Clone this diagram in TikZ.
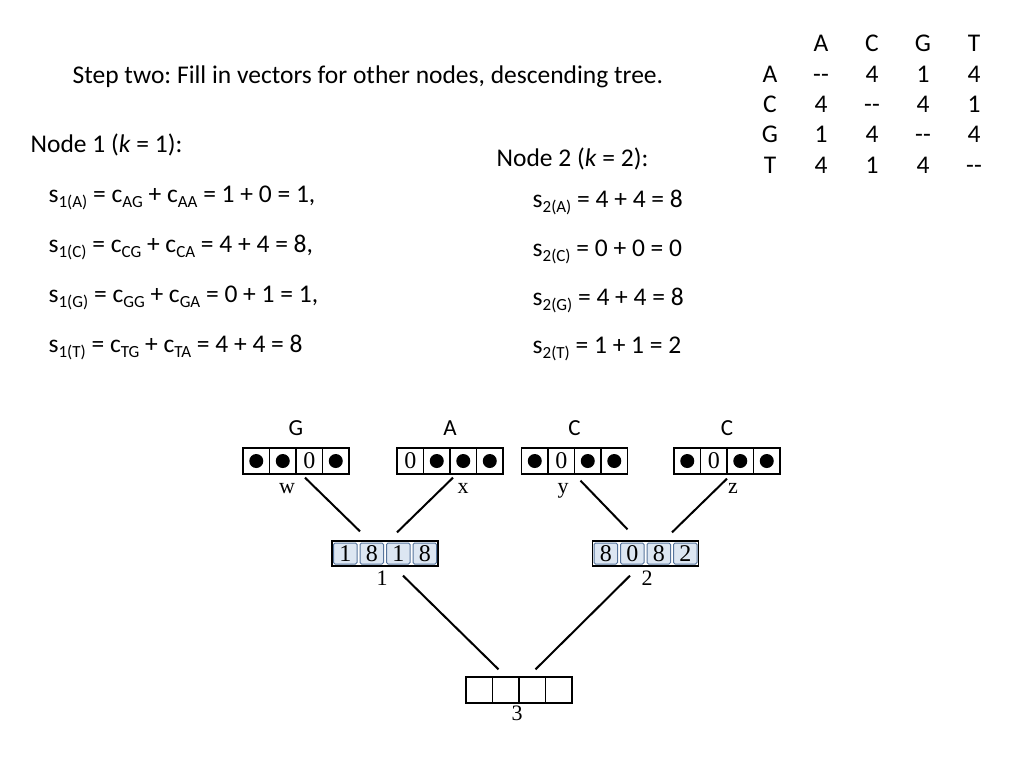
\documentclass[tikz,border=0pt]{standalone}
\usepackage{fontspec}
\setmainfont{Carlito}
\newfontfamily\timesfont{Liberation Serif}
\usetikzlibrary{positioning}
\frenchspacing

\definecolor{cellfill}{RGB}{220,230,242}
\definecolor{cellborder}{RGB}{85,115,155}

\newcommand{\lowtxt}[1]{\raisebox{-5pt}{\fontsize{17}{17}\selectfont #1}}
\newcommand{\blob}{\tikz\fill (0,0) circle (7pt);}

\begin{document}
\begin{tikzpicture}[x=1pt, y=-1pt, line width=1.3pt,
    txt/.style={inner sep=0pt, font=\fontsize{25.5}{30}\selectfont},
    letter/.style={inner sep=0pt, anchor=base, font=\fontsize{23}{25}\selectfont},
    lbl/.style={inner sep=0pt, anchor=base, font=\timesfont\fontsize{22}{24}\selectfont},
    frame/.style={draw, rectangle, minimum width=106pt, minimum height=26pt, inner sep=0pt},
    cell/.style={draw, rectangle, minimum width=26.5pt, minimum height=26pt, inner sep=0pt,
        font=\timesfont\fontsize{24}{26}\selectfont},
    bluecell/.style={draw=cellborder, fill=cellfill, rounded corners=1.5pt, line width=1pt,
        minimum width=23.5pt, minimum height=21pt, inner sep=0pt,
        font=\timesfont\fontsize{24}{26}\selectfont},
    edge/.style={line width=2pt}]
\useasboundingbox (0,0) rectangle (1024,768);

% heading and cost table
\node[txt, anchor=base west] (title) at (72,83) {Step two: Fill in vectors for other nodes, descending tree.};
\foreach \h [count=\c] in {A,C,G,T} {
    \node[txt, anchor=base] (col\c) at ({770+\c*51},52) {\h};
    \node[txt, anchor=base] (row\c) at (770,{52+\c*30.3}) {\h};
}
\foreach \vals [count=\r] in {{-{}-,4,1,4},{4,-{}-,4,1},{1,4,-{}-,4},{4,1,4,-{}-}} {
    \foreach \v [count=\c] in \vals
        \node[txt, anchor=base] (m\r\c) at ({770+\c*51},{52+\r*30.3}) {\v};
}

% node 1 sums
\node[txt, anchor=base west] (node1) at (30,152) {Node 1 (\textit{k} = 1):};
\node[txt, anchor=base west] (s1a) at (48,202) {s\lowtxt{1(A)} = c\lowtxt{AG} + c\lowtxt{AA} = 1 + 0 = 1,};
\node[txt, anchor=base west] (s1c) at (48,252) {s\lowtxt{1(C)} = c\lowtxt{CG} + c\lowtxt{CA} = 4 + 4 = 8,};
\node[txt, anchor=base west] (s1g) at (48,302) {s\lowtxt{1(G)} = c\lowtxt{GG} + c\lowtxt{GA} = 0 + 1 = 1,};
\node[txt, anchor=base west] (s1t) at (48,352) {s\lowtxt{1(T)} = c\lowtxt{TG} + c\lowtxt{TA} = 4 + 4 = 8};

% node 2 sums
\node[txt, anchor=base west] (node2) at (496,166) {Node 2 (\textit{k} = 2):};
\node[txt, anchor=base west] (s2a) at (532,207) {s\lowtxt{2(A)} = 4 + 4 = 8};
\node[txt, anchor=base west] (s2c) at (532,256) {s\lowtxt{2(C)} = 0 + 0 = 0};
\node[txt, anchor=base west] (s2g) at (532,305) {s\lowtxt{2(G)} = 4 + 4 = 8};
\node[txt, anchor=base west] (s2t) at (532,353) {s\lowtxt{2(T)} = 1 + 1 = 2};

% leaf vectors
\foreach \nm/\cx/\ch/\a/\b/\c/\d in {w/296/G/\blob/\blob/0/\blob, x/450/A/0/\blob/\blob/\blob,
        y/574.5/C/\blob/0/\blob/\blob, z/727/C/\blob/0/\blob/\blob} {
    \node[letter] (let\nm) at (\cx,435) {\ch};
    \node[frame] (\nm) at (\cx,461) {};
    \foreach \v [count=\i] in {\a,\b,\c,\d}
        \node[cell] (\nm\i) at ({\cx+(\i-2.5)*26.5},461) {\v};
}
\node[lbl] (lw) at (287,493) {w};
\node[lbl] (lx) at (463,493) {x};
\node[lbl] (ly) at (563,493) {y};
\node[lbl] (lz) at (733,493) {z};

% internal vectors
\foreach \nm/\cx/\a/\b/\c/\d in {n1/385/1/8/1/8, n2/645.5/8/0/8/2} {
    \node[frame, minimum height=25pt] (\nm) at (\cx,553.5) {};
    \foreach \v [count=\i] in {\a,\b,\c,\d}
        \node[bluecell] (\nm\i) at ({\cx+(\i-2.5)*26.5},553.5) {\v};
}
\node[frame] (n3) at (519,690) {};
\foreach \i in {1,...,4}
    \node[cell] (n3\i) at ({519+(\i-2.5)*26.5},690) {};
\node[lbl] (l1) at (382,585) {1};
\node[lbl] (l2) at (647,585) {2};
\node[lbl] (l3) at (517,720) {3};

% tree edges
\draw[edge] ([shift={(9,3)}]w.south) -- ([shift={(-25,-9)}]n1.north);
\draw[edge] ([shift={(3,3)}]x.south) -- ([shift={(12,-8)}]n1.north);
\draw[edge] ([shift={(6,6)}]y.south) -- ([shift={(-18,-11)}]n2.north);
\draw[edge] ([shift={(0,4)}]z.south) -- ([shift={(26.5,-8)}]n2.north);
\draw[edge] ([shift={(18,9)}]n1.south) -- ([shift={(-20.5,-7)}]n3.north);
\draw[edge] ([shift={(-15.5,9)}]n2.south) -- ([shift={(16.5,-7)}]n3.north);
\end{tikzpicture}
\end{document}
